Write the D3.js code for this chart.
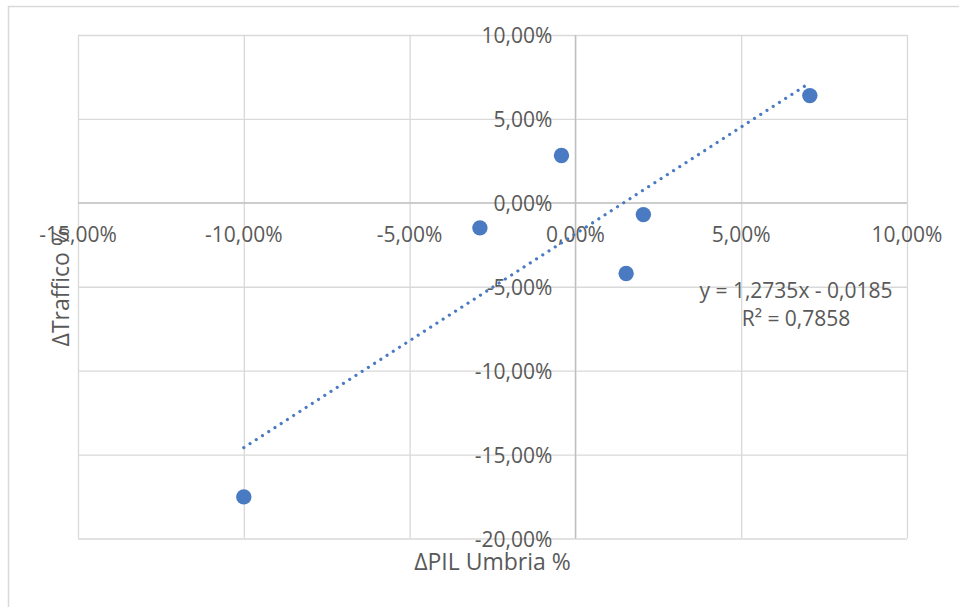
<!DOCTYPE html>
<html>
<head>
<meta charset="utf-8">
<script src="https://cdn.jsdelivr.net/npm/d3@7"></script>
<style>
  html, body { margin: 0; padding: 0; background: #fff; }
  svg { display: block; }
  text { font-family: "Open Sans", "Noto Sans", sans-serif; fill: #595959; }
</style>
</head>
<body>
<svg id="chart" width="959" height="607"></svg>
<script>
// ΔPIL Umbria (x) vs ΔTraffico (y), one point per year
const pilUmbria = [-0.1000, -0.0288, -0.0042, 0.0153, 0.0205, 0.0707];
const traffico  = [-0.1752, -0.0149, 0.0282, -0.0421, -0.0070, 0.0639];

// linear trendline as stated in its label
const trendSlope = 1.2735;
const trendIntercept = -0.0185;
const trendR2 = 0.7858;

const xTicks = [-0.15, -0.10, -0.05, 0, 0.05, 0.10];
const yTicks = [-0.20, -0.15, -0.10, -0.05, 0, 0.05, 0.10];

const xTitle = "ΔPIL Umbria %";
const yTitle = "ΔTraffico %";

const it = d3.formatLocale({
  decimal: ",", thousands: ".", grouping: [3], currency: ["€", ""], minus: "-"
});
const pct = it.format(".2%");
const num4 = it.format(".4f");

const svg = d3.select("#chart");
const W = 959, H = 607;
const plot = { left: 78, right: 907, top: 35, bottom: 538.5 };

const x = d3.scaleLinear().domain([-0.15, 0.10]).range([plot.left, plot.right]);
const y = d3.scaleLinear().domain([-0.20, 0.10]).range([plot.bottom, plot.top]);

// chart area border (extends past the window on the right and bottom)
svg.append("rect")
  .attr("x", 8.5).attr("y", 6.5)
  .attr("width", W + 20).attr("height", H + 20)
  .attr("fill", "#fff").attr("stroke", "#d9d9d9").attr("stroke-width", 1.5);

// gridlines
const grid = svg.append("g");
grid.append("g")
  .attr("transform", `translate(0,${plot.bottom})`)
  .call(d3.axisBottom(x).tickValues(xTicks).tickSize(-(plot.bottom - plot.top)).tickFormat(""))
  .call(g => g.select(".domain").remove())
  .call(g => g.selectAll("line").attr("stroke", "#d9d9d9").attr("stroke-width", 1.3));
grid.append("g")
  .attr("transform", `translate(${plot.left},0)`)
  .call(d3.axisLeft(y).tickValues(yTicks).tickSize(-(plot.right - plot.left)).tickFormat(""))
  .call(g => g.select(".domain").remove())
  .call(g => g.selectAll("line").attr("stroke", "#d9d9d9").attr("stroke-width", 1.3));

// axis lines crossing at zero
svg.append("line")
  .attr("x1", plot.left).attr("x2", plot.right)
  .attr("y1", y(0)).attr("y2", y(0))
  .attr("stroke", "#bfbfbf").attr("stroke-width", 1.3);
svg.append("line")
  .attr("x1", x(0)).attr("x2", x(0))
  .attr("y1", plot.top).attr("y2", plot.bottom)
  .attr("stroke", "#bfbfbf").attr("stroke-width", 1.3);

// tick labels
const fs = 21;
const fsTitle = 23;
svg.append("g").selectAll("text")
  .data(xTicks).join("text")
  .attr("x", d => x(d)).attr("y", y(0) + 31)
  .attr("text-anchor", "middle").attr("dominant-baseline", "central")
  .attr("font-size", fs)
  .text(d => pct(d));
svg.append("g").selectAll("text")
  .data(yTicks).join("text")
  .attr("x", x(0) - 23).attr("y", d => y(d))
  .attr("text-anchor", "end").attr("dominant-baseline", "central")
  .attr("font-size", fs)
  .text(d => pct(d));

// axis titles
svg.append("text")
  .attr("x", (plot.left + plot.right) / 2).attr("y", 561)
  .attr("text-anchor", "middle").attr("dominant-baseline", "central")
  .attr("font-size", fsTitle)
  .text(xTitle);
svg.append("text")
  .attr("transform", `translate(60,${(plot.top + plot.bottom) / 2}) rotate(-90)`)
  .attr("text-anchor", "middle").attr("dominant-baseline", "central")
  .attr("font-size", fsTitle)
  .text(yTitle);

// trendline over the range of the data
const color = "#4a7bc2";
const [xMin, xMax] = d3.extent(pilUmbria);
const trend = d3.line().x(d => x(d)).y(d => y(trendSlope * d + trendIntercept));
svg.append("path")
  .datum([xMin, xMax])
  .attr("d", trend)
  .attr("fill", "none")
  .attr("stroke", color)
  .attr("stroke-width", 3.2)
  .attr("stroke-linecap", "round")
  .attr("stroke-dasharray", "0.01 7.4");

// data points
svg.append("g").selectAll("circle")
  .data(pilUmbria.map((v, i) => [v, traffico[i]]))
  .join("circle")
  .attr("cx", d => x(d[0])).attr("cy", d => y(d[1]))
  .attr("r", 7.7)
  .attr("fill", color);

// trendline equation and R²
const eq = svg.append("text")
  .attr("text-anchor", "middle")
  .attr("font-size", fs);
eq.append("tspan")
  .attr("x", 796).attr("y", 290).attr("dominant-baseline", "central")
  .text(`y = ${num4(trendSlope)}x - ${num4(-trendIntercept)}`);
eq.append("tspan")
  .attr("x", 796).attr("y", 318).attr("dominant-baseline", "central")
  .text(`R² = ${num4(trendR2)}`);
</script>
</body>
</html>
